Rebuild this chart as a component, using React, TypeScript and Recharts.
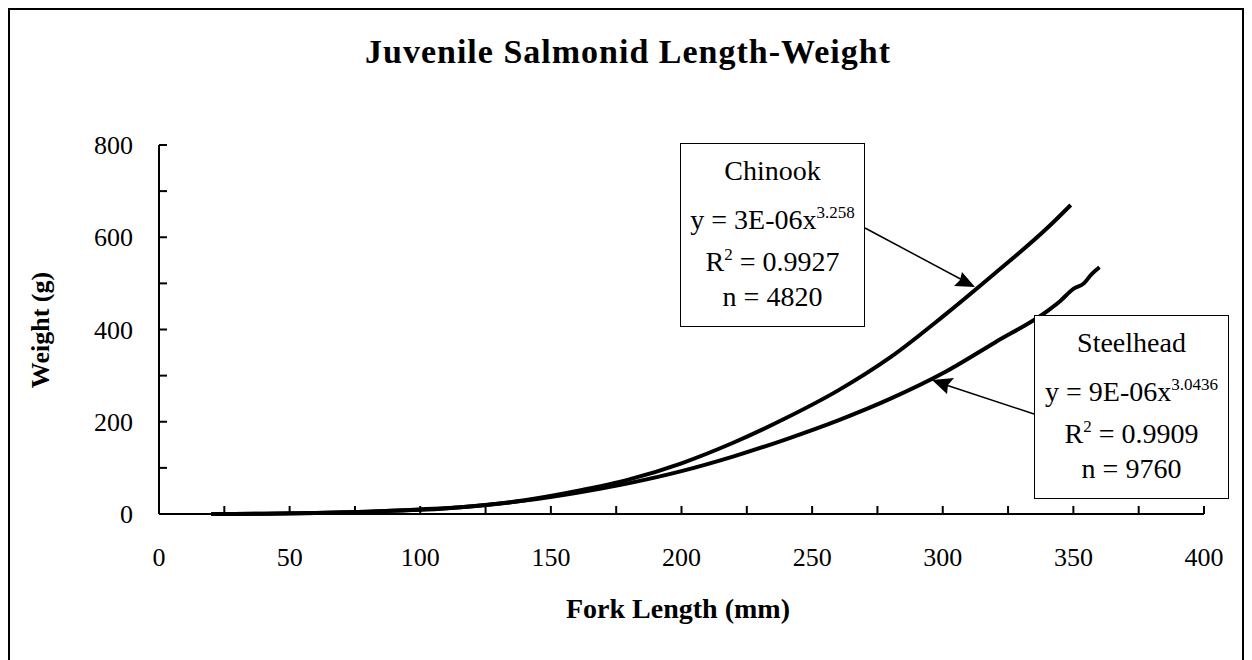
import { LineChart, Line, XAxis, YAxis } from 'recharts';

const chinookLength = [20, 40, 60, 80, 100, 120, 140, 160, 180, 200, 220, 240, 260, 280, 300, 320, 340, 349];
const chinookWeight = [0.1, 0.5, 2, 5, 9, 17, 30, 50, 75, 110, 155, 208, 268, 340, 428, 522, 620, 670];

const steelheadLength = [20, 40, 60, 80, 100, 120, 140, 160, 180, 200, 220, 240, 260, 280, 300, 320, 340, 345, 350, 354, 357, 360];
const steelheadWeight = [0.1, 0.6, 2, 5, 10, 17, 29, 46, 67, 93, 125, 162, 203, 250, 305, 372, 440, 462, 488, 500, 520, 535];

const xTicks = [0, 25, 50, 75, 100, 125, 150, 175, 200, 225, 250, 275, 300, 325, 350, 375, 400];
const yTicks = [0, 100, 200, 300, 400, 500, 600, 700, 800];

const chinook = chinookLength.map((x, i) => ({ x, y: chinookWeight[i] }));
const steelhead = steelheadLength.map((x, i) => ({ x, y: steelheadWeight[i] }));

const SERIF = '"Liberation Serif", "Times New Roman", serif';
const tickStyle = { fontFamily: SERIF, fontSize: 26, fill: '#000' };

function Box({ left, top, width, name, coef, exp, r2, n }: { left: number; top: number; width: number; name: string; coef: string; exp: string; r2: string; n: string }) {
  const line = { height: 42, lineHeight: '42px' };
  return (
    <div
      style={{
        position: 'absolute', left, top, width, height: 184, boxSizing: 'border-box',
        border: '1.5px solid #000', background: '#fff', textAlign: 'center',
        fontFamily: SERIF, fontSize: 28, paddingTop: 6, color: '#000', whiteSpace: 'nowrap',
      }}
    >
      <div style={line}>{name}</div>
      <div style={line}>
        y = {coef}x<span style={{ fontSize: 17, verticalAlign: 11 }}>{exp}</span>
      </div>
      <div style={line}>
        R<span style={{ fontSize: 17, verticalAlign: 11 }}>2</span> = {r2}
      </div>
      <div style={line}>n = {n}</div>
    </div>
  );
}

export default function App() {
  return (
    <div
      style={{
        position: 'relative', width: 1236, height: 652, boxSizing: 'border-box',
        borderTop: '2px solid #000', borderLeft: '2px solid #000', borderRight: '2px solid #000',
        background: '#fff',
      }}
    >
      <LineChart width={1232} height={640} margin={{ top: 135, right: 38, bottom: 96, left: 89 }}>
        <XAxis
          type="number"
          dataKey="x"
          domain={[0, 400]}
          ticks={xTicks}
          interval={0}
          tickFormatter={(v: number) => (v % 50 === 0 ? String(v) : '')}
          tickSize={-8}
          tickMargin={42}
          tick={tickStyle}
          height={40}
          axisLine={{ stroke: '#000', strokeWidth: 2 }}
          tickLine={{ stroke: '#000', strokeWidth: 2 }}
          allowDataOverflow
        />
        <YAxis
          type="number"
          domain={[0, 800]}
          ticks={yTicks}
          interval={0}
          tickFormatter={(v: number) => (v % 200 === 0 ? String(v) : '')}
          tickSize={-8}
          tickMargin={34}
          tick={tickStyle}
          width={60}
          axisLine={{ stroke: '#000', strokeWidth: 2 }}
          tickLine={{ stroke: '#000', strokeWidth: 2 }}
        />
        <Line data={chinook} dataKey="y" type="monotone" stroke="#000" strokeWidth={4} dot={false} isAnimationActive={false} />
        <Line data={steelhead} dataKey="y" type="monotone" stroke="#000" strokeWidth={4} dot={false} isAnimationActive={false} />
      </LineChart>

      <svg width={1232} height={640} style={{ position: 'absolute', left: 0, top: 0, pointerEvents: 'none' }}>
        <text x={618} y={53} textAnchor="middle" fontFamily={SERIF} fontWeight="bold" fontSize={34} letterSpacing={1}>
          Juvenile Salmonid Length-Weight
        </text>
        <text x={668} y={608} textAnchor="middle" fontFamily={SERIF} fontWeight="bold" fontSize={28}>
          Fork Length (mm)
        </text>
        <text
          x={30} y={320} textAnchor="middle" fontFamily={SERIF} fontWeight="bold" fontSize={26}
          transform="rotate(-90 30 320)" dominantBaseline="central"
        >
          Weight (g)
        </text>
        <line x1={855} y1={218} x2={958} y2={273} stroke="#000" strokeWidth={1.5} />
        <polygon points="965,277 944,276 950,270 952,262" fill="#000" />
        <line x1={1024} y1={404} x2={930} y2={373} stroke="#000" strokeWidth={1.5} />
        <polygon points="922,370 937,384 938,375 944,368" fill="#000" />
      </svg>

      <Box left={670} top={133} width={185} name="Chinook" coef="3E-06" exp="3.258" r2="0.9927" n="4820" />
      <Box left={1024} top={305} width={195} name="Steelhead" coef="9E-06" exp="3.0436" r2="0.9909" n="9760" />
    </div>
  );
}
